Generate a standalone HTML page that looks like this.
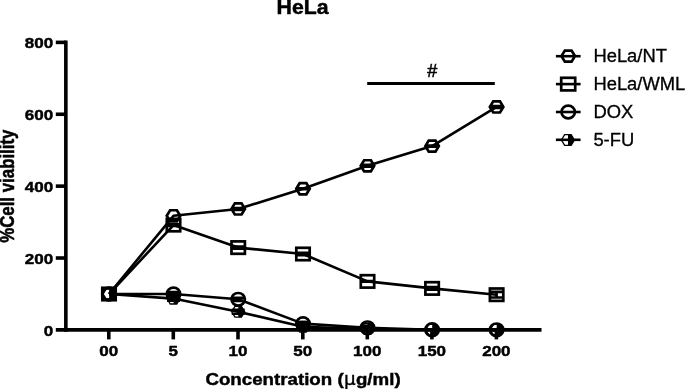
<!DOCTYPE html>
<html><head><meta charset="utf-8"><title>HeLa</title>
<style>
html,body{margin:0;padding:0;background:#fff;}
body{width:685px;height:389px;overflow:hidden;}
svg{display:block;}
svg text{font-family:"Liberation Sans",Arial,Helvetica,sans-serif;fill:#000;}
</style></head><body>
<svg width="685" height="389" viewBox="0 0 685 389">
<rect width="685" height="389" fill="#fff"/>
<text transform="translate(302.6,14.0) scale(1.075,1)" font-size="19.8" font-weight="bold" text-anchor="middle" stroke="#000" stroke-width="0.45">HeLa</text>
<text transform="translate(13.8,186.2) scale(1.17,1) rotate(-90)" font-size="16.85" font-weight="bold" text-anchor="middle" stroke="#000" stroke-width="0.45">%Cell viability</text>
<text transform="translate(303.0,385.0) scale(1.076,1)" font-size="17.4" font-weight="bold" text-anchor="middle" stroke="#000" stroke-width="0.45">Concentration (<tspan font-family="DejaVu Sans, sans-serif" font-weight="normal" font-size="17" stroke-width="0.35" dx="0.3">μ</tspan><tspan dx="0.3">g/ml)</tspan></text>
<path d="M65.85 40.6 V331.7" stroke="#000" stroke-width="3.6" fill="none"/>
<path d="M55.8 329.9 H541.5" stroke="#000" stroke-width="3.6" fill="none"/>
<path d="M55.8 258.02 H65.85" stroke="#000" stroke-width="3.6" fill="none"/>
<path d="M55.8 186.14 H65.85" stroke="#000" stroke-width="3.6" fill="none"/>
<path d="M55.8 114.26 H65.85" stroke="#000" stroke-width="3.6" fill="none"/>
<path d="M55.8 42.38 H65.85" stroke="#000" stroke-width="3.6" fill="none"/>
<text transform="translate(53.2,335.65) scale(1.1,1)" font-size="15.45" font-weight="bold" text-anchor="end" stroke="#000" stroke-width="0.45">0</text>
<text transform="translate(53.2,263.77) scale(1.1,1)" font-size="15.45" font-weight="bold" text-anchor="end" stroke="#000" stroke-width="0.45">200</text>
<text transform="translate(53.2,191.89) scale(1.1,1)" font-size="15.45" font-weight="bold" text-anchor="end" stroke="#000" stroke-width="0.45">400</text>
<text transform="translate(53.2,120.01) scale(1.1,1)" font-size="15.45" font-weight="bold" text-anchor="end" stroke="#000" stroke-width="0.45">600</text>
<text transform="translate(53.2,48.13) scale(1.1,1)" font-size="15.45" font-weight="bold" text-anchor="end" stroke="#000" stroke-width="0.45">800</text>
<path d="M108.8 329.9 V339.4" stroke="#000" stroke-width="3.6" fill="none"/>
<text transform="translate(108.8,356.3) scale(1.1,1)" font-size="15.45" font-weight="bold" text-anchor="middle" stroke="#000" stroke-width="0.45">00</text>
<path d="M173.3 329.9 V339.4" stroke="#000" stroke-width="3.6" fill="none"/>
<text transform="translate(173.3,356.3) scale(1.1,1)" font-size="15.45" font-weight="bold" text-anchor="middle" stroke="#000" stroke-width="0.45">5</text>
<path d="M238.0 329.9 V339.4" stroke="#000" stroke-width="3.6" fill="none"/>
<text transform="translate(238.0,356.3) scale(1.1,1)" font-size="15.45" font-weight="bold" text-anchor="middle" stroke="#000" stroke-width="0.45">10</text>
<path d="M302.8 329.9 V339.4" stroke="#000" stroke-width="3.6" fill="none"/>
<text transform="translate(302.8,356.3) scale(1.1,1)" font-size="15.45" font-weight="bold" text-anchor="middle" stroke="#000" stroke-width="0.45">50</text>
<path d="M367.3 329.9 V339.4" stroke="#000" stroke-width="3.6" fill="none"/>
<text transform="translate(367.3,356.3) scale(1.1,1)" font-size="15.45" font-weight="bold" text-anchor="middle" stroke="#000" stroke-width="0.45">100</text>
<path d="M431.90000000000003 329.9 V339.4" stroke="#000" stroke-width="3.6" fill="none"/>
<text transform="translate(431.90000000000003,356.3) scale(1.1,1)" font-size="15.45" font-weight="bold" text-anchor="middle" stroke="#000" stroke-width="0.45">150</text>
<path d="M496.40000000000003 329.9 V339.4" stroke="#000" stroke-width="3.6" fill="none"/>
<text transform="translate(496.40000000000003,356.3) scale(1.1,1)" font-size="15.45" font-weight="bold" text-anchor="middle" stroke="#000" stroke-width="0.45">200</text>
<path d="M367.2 83.45 H494.8" stroke="#000" stroke-width="3.0" fill="none"/>
<text transform="translate(432.2,77.0) scale(0.96,1)" font-size="18.8" font-weight="normal" text-anchor="middle" stroke="#000" stroke-width="0.55">#</text>
<path d="M109.0 294.0 L173.5 215.8 L238.2 208.95 L303.0 188.75 L367.5 165.8 L432.1 146.1 L496.6 106.95" stroke="#000" stroke-width="2.6" fill="none" stroke-linejoin="round"/>
<polygon points="102.25,294.00 105.62,288.45 112.38,288.45 115.75,294.00 112.38,299.55 105.62,299.55" stroke="#000" stroke-width="2.7" fill="none" stroke-linejoin="miter"/>
<polygon points="166.75,215.80 170.12,210.25 176.88,210.25 180.25,215.80 176.88,221.35 170.12,221.35" stroke="#000" stroke-width="2.7" fill="none" stroke-linejoin="miter"/>
<path d="M232.7 207.95 H243.7 M232.7 209.95 H243.7 M238.2 207.95 V209.95" stroke="#000" stroke-width="2.6" fill="none"/>
<polygon points="231.45,208.95 234.82,203.40 241.57,203.40 244.95,208.95 241.57,214.50 234.82,214.50" stroke="#000" stroke-width="2.7" fill="none" stroke-linejoin="miter"/>
<path d="M297.5 188.25 H308.5 M297.5 189.25 H308.5 M303.0 188.25 V189.25" stroke="#000" stroke-width="2.6" fill="none"/>
<polygon points="296.25,188.75 299.62,183.20 306.38,183.20 309.75,188.75 306.38,194.30 299.62,194.30" stroke="#000" stroke-width="2.7" fill="none" stroke-linejoin="miter"/>
<path d="M362.0 164.9 H373.0 M362.0 166.70000000000002 H373.0 M367.5 164.9 V166.70000000000002" stroke="#000" stroke-width="2.6" fill="none"/>
<polygon points="360.75,165.80 364.12,160.25 370.88,160.25 374.25,165.80 370.88,171.35 364.12,171.35" stroke="#000" stroke-width="2.7" fill="none" stroke-linejoin="miter"/>
<path d="M426.6 145.5 H437.6 M426.6 146.7 H437.6 M432.1 145.5 V146.7" stroke="#000" stroke-width="2.6" fill="none"/>
<polygon points="425.35,146.10 428.73,140.55 435.48,140.55 438.85,146.10 435.48,151.65 428.73,151.65" stroke="#000" stroke-width="2.7" fill="none" stroke-linejoin="miter"/>
<path d="M491.1 106.05 H502.1 M491.1 107.85000000000001 H502.1 M496.6 106.05 V107.85000000000001" stroke="#000" stroke-width="2.6" fill="none"/>
<polygon points="489.85,106.95 493.23,101.40 499.98,101.40 503.35,106.95 499.98,112.50 493.23,112.50" stroke="#000" stroke-width="2.7" fill="none" stroke-linejoin="miter"/>
<path d="M109.0 294.0 L173.5 225.1 L238.2 247.6 L303.0 254.0 L367.5 281.4 L432.1 288.4 L496.6 294.7" stroke="#000" stroke-width="2.6" fill="none" stroke-linejoin="round"/>
<rect x="102.30" y="287.80" width="13.4" height="12.4" stroke="#000" stroke-width="2.7" fill="none"/>
<path d="M167.0 224.2 H180.0 M167.0 226.0 H180.0 M173.5 224.2 V226.0" stroke="#000" stroke-width="2.6" fill="none"/>
<rect x="166.80" y="218.90" width="13.4" height="12.4" stroke="#000" stroke-width="2.7" fill="none"/>
<path d="M231.7 246.6 H244.7 M231.7 248.6 H244.7 M238.2 246.6 V248.6" stroke="#000" stroke-width="2.6" fill="none"/>
<rect x="231.50" y="241.40" width="13.4" height="12.4" stroke="#000" stroke-width="2.7" fill="none"/>
<path d="M296.5 252.8 H309.5 M296.5 255.2 H309.5 M303.0 252.8 V255.2" stroke="#000" stroke-width="2.6" fill="none"/>
<rect x="296.30" y="247.80" width="13.4" height="12.4" stroke="#000" stroke-width="2.7" fill="none"/>
<path d="M361.0 281.0 H374.0 M361.0 281.79999999999995 H374.0 M367.5 281.0 V281.79999999999995" stroke="#000" stroke-width="2.6" fill="none"/>
<rect x="360.80" y="275.20" width="13.4" height="12.4" stroke="#000" stroke-width="2.7" fill="none"/>
<path d="M425.6 287.0 H438.6 M425.6 289.79999999999995 H438.6 M432.1 287.0 V289.79999999999995" stroke="#000" stroke-width="2.6" fill="none"/>
<rect x="425.40" y="282.20" width="13.4" height="12.4" stroke="#000" stroke-width="2.7" fill="none"/>
<path d="M490.1 291.9 H503.1 M490.1 297.5 H503.1 M496.6 291.9 V297.5" stroke="#000" stroke-width="2.6" fill="none"/>
<rect x="489.90" y="288.50" width="13.4" height="12.4" stroke="#000" stroke-width="2.7" fill="none"/>
<path d="M109.0 294.0 L173.5 294.0 L238.2 299.3 L303.0 323.6 L367.5 327.8 L432.1 329.7 L496.6 329.8" stroke="#000" stroke-width="2.6" fill="none" stroke-linejoin="round"/>
<ellipse cx="109.0" cy="294.0" rx="6.7" ry="6.3" stroke="#000" stroke-width="2.7" fill="none"/>
<path d="M167.5 292.0 H179.5 M167.5 296.0 H179.5 M173.5 292.0 V296.0" stroke="#000" stroke-width="2.6" fill="none"/>
<ellipse cx="173.5" cy="294.0" rx="6.7" ry="6.3" stroke="#000" stroke-width="2.7" fill="none"/>
<path d="M232.2 297.7 H244.2 M232.2 300.90000000000003 H244.2 M238.2 297.7 V300.90000000000003" stroke="#000" stroke-width="2.6" fill="none"/>
<ellipse cx="238.2" cy="299.3" rx="6.7" ry="6.3" stroke="#000" stroke-width="2.7" fill="none"/>
<path d="M297.0 322.1 H309.0 M297.0 325.1 H309.0 M303.0 322.1 V325.1" stroke="#000" stroke-width="2.6" fill="none"/>
<ellipse cx="303.0" cy="323.6" rx="6.7" ry="6.3" stroke="#000" stroke-width="2.7" fill="none"/>
<path d="M361.5 325.90000000000003 H373.5 M361.5 329.7 H373.5 M367.5 325.90000000000003 V329.7" stroke="#000" stroke-width="2.6" fill="none"/>
<ellipse cx="367.5" cy="327.8" rx="6.7" ry="6.3" stroke="#000" stroke-width="2.7" fill="none"/>
<path d="M426.1 329.4 H438.1 M426.1 330.0 H438.1 M432.1 329.4 V330.0" stroke="#000" stroke-width="2.6" fill="none"/>
<ellipse cx="432.1" cy="329.7" rx="6.7" ry="6.3" stroke="#000" stroke-width="2.7" fill="none"/>
<path d="M490.6 329.5 H502.6 M490.6 330.1 H502.6 M496.6 329.5 V330.1" stroke="#000" stroke-width="2.6" fill="none"/>
<ellipse cx="496.6" cy="329.8" rx="6.7" ry="6.3" stroke="#000" stroke-width="2.7" fill="none"/>
<path d="M109.0 294.0 L173.5 298.6 L238.2 311.8 L303.0 326.7 L367.5 329.0 L432.1 329.8 L496.6 329.8" stroke="#000" stroke-width="2.6" fill="none" stroke-linejoin="round"/>
<polygon points="102.50,294.00 105.75,288.60 112.25,288.60 115.50,294.00 112.25,299.40 105.75,299.40" stroke="#000" stroke-width="1.3" fill="none"/>
<polygon points="109.10,288.60 112.25,288.60 115.50,294.00 112.25,299.40 109.10,299.40" stroke="none" fill="#000"/>
<path d="M167.0 296.6 H180.0 M167.0 300.6 H180.0 M173.5 296.6 V300.6" stroke="#000" stroke-width="2.6" fill="none"/>
<polygon points="167.00,298.60 170.25,293.20 176.75,293.20 180.00,298.60 176.75,304.00 170.25,304.00" stroke="#000" stroke-width="1.3" fill="none"/>
<polygon points="173.60,293.20 176.75,293.20 180.00,298.60 176.75,304.00 173.60,304.00" stroke="none" fill="#000"/>
<path d="M231.7 309.8 H244.7 M231.7 313.8 H244.7 M238.2 309.8 V313.8" stroke="#000" stroke-width="2.6" fill="none"/>
<polygon points="231.70,311.80 234.95,306.40 241.45,306.40 244.70,311.80 241.45,317.20 234.95,317.20" stroke="#000" stroke-width="1.3" fill="none"/>
<polygon points="238.30,306.40 241.45,306.40 244.70,311.80 241.45,317.20 238.30,317.20" stroke="none" fill="#000"/>
<path d="M296.5 325.2 H309.5 M296.5 328.2 H309.5 M303.0 325.2 V328.2" stroke="#000" stroke-width="2.6" fill="none"/>
<polygon points="296.50,326.70 299.75,321.30 306.25,321.30 309.50,326.70 306.25,332.10 299.75,332.10" stroke="#000" stroke-width="1.3" fill="none"/>
<polygon points="303.10,321.30 306.25,321.30 309.50,326.70 306.25,332.10 303.10,332.10" stroke="none" fill="#000"/>
<path d="M361.0 327.3 H374.0 M361.0 330.7 H374.0 M367.5 327.3 V330.7" stroke="#000" stroke-width="2.6" fill="none"/>
<polygon points="361.00,329.00 364.25,323.60 370.75,323.60 374.00,329.00 370.75,334.40 364.25,334.40" stroke="#000" stroke-width="1.3" fill="none"/>
<polygon points="367.60,323.60 370.75,323.60 374.00,329.00 370.75,334.40 367.60,334.40" stroke="none" fill="#000"/>
<path d="M425.6 329.5 H438.6 M425.6 330.1 H438.6 M432.1 329.5 V330.1" stroke="#000" stroke-width="2.6" fill="none"/>
<polygon points="425.60,329.80 428.85,324.40 435.35,324.40 438.60,329.80 435.35,335.20 428.85,335.20" stroke="#000" stroke-width="1.3" fill="none"/>
<polygon points="432.20,324.40 435.35,324.40 438.60,329.80 435.35,335.20 432.20,335.20" stroke="none" fill="#000"/>
<path d="M490.1 329.5 H503.1 M490.1 330.1 H503.1 M496.6 329.5 V330.1" stroke="#000" stroke-width="2.6" fill="none"/>
<polygon points="490.10,329.80 493.35,324.40 499.85,324.40 503.10,329.80 499.85,335.20 493.35,335.20" stroke="#000" stroke-width="1.3" fill="none"/>
<polygon points="496.70,324.40 499.85,324.40 503.10,329.80 499.85,335.20 496.70,335.20" stroke="none" fill="#000"/>
<path d="M555.9 56.2 H580.6" stroke="#000" stroke-width="2.6" fill="none"/>
<polygon points="561.45,56.10 564.83,50.55 571.58,50.55 574.95,56.10 571.58,61.65 564.83,61.65" stroke="#000" stroke-width="2.7" fill="none" stroke-linejoin="miter"/>
<text transform="translate(593.4,61.85) scale(1.05,1)" font-size="17.5" font-weight="normal" text-anchor="start" stroke="#000" stroke-width="0.3">HeLa/NT</text>
<path d="M555.9 84.1 H580.6" stroke="#000" stroke-width="2.6" fill="none"/>
<rect x="561.20" y="77.80" width="14.0" height="12.6" stroke="#000" stroke-width="2.7" fill="none"/>
<text transform="translate(593.4,89.75) scale(1.05,1)" font-size="17.5" font-weight="normal" text-anchor="start" stroke="#000" stroke-width="0.3">HeLa/WML</text>
<path d="M555.9 112.0 H580.6" stroke="#000" stroke-width="2.6" fill="none"/>
<ellipse cx="568.2" cy="112.0" rx="6.7" ry="6.3" stroke="#000" stroke-width="2.7" fill="none"/>
<text transform="translate(593.4,117.65) scale(1.05,1)" font-size="17.5" font-weight="normal" text-anchor="start" stroke="#000" stroke-width="0.3">DOX</text>
<path d="M555.9 139.8 H580.6" stroke="#000" stroke-width="2.6" fill="none"/>
<polygon points="561.40,140.00 564.65,134.60 571.15,134.60 574.40,140.00 571.15,145.40 564.65,145.40" stroke="#000" stroke-width="1.3" fill="none"/>
<polygon points="568.00,134.60 571.15,134.60 574.40,140.00 571.15,145.40 568.00,145.40" stroke="none" fill="#000"/>
<text transform="translate(593.4,145.85) scale(1.05,1)" font-size="17.5" font-weight="normal" text-anchor="start" stroke="#000" stroke-width="0.3">5-FU</text>
</svg>
</body></html>
